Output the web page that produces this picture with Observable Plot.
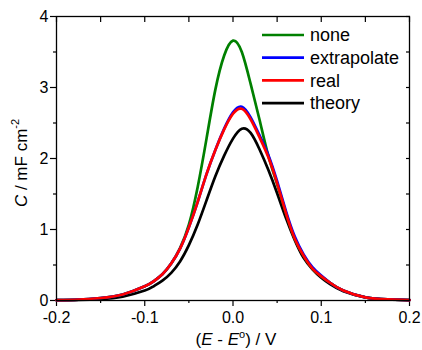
<!DOCTYPE html>
<html>
<head>
<meta charset="utf-8">
<script src="https://cdn.jsdelivr.net/npm/d3@7"></script>
<script src="https://cdn.jsdelivr.net/npm/@observablehq/plot@0.6"></script>
<style>
  html, body { margin: 0; padding: 0; background: #fff; }
  svg { display: block; }
</style>
</head>
<body>
<div id="chart"></div>
<script>
// ---- data ----
const seriesNames = ["none", "extrapolate", "real", "theory"];
const seriesColors = ["#008000", "#0000ff", "#ff0000", "#000000"];

const E = [-0.2, -0.175, -0.15, -0.125, -0.1, -0.09, -0.08, -0.07, -0.06, -0.05, -0.04, -0.03, -0.02, -0.01, 0, 0.01, 0.02, 0.03, 0.04, 0.05, 0.06, 0.07, 0.08, 0.09, 0.1, 0.11, 0.125, 0.15, 0.175, 0.2];

const none        = [0.006, 0.013, 0.035, 0.085, 0.20, 0.27, 0.37, 0.52, 0.74, 1.07, 1.60, 2.28, 2.97, 3.45, 3.66, 3.50, 3.05, 2.55, 2.04, 1.64, 1.23, 0.87, 0.63, 0.45, 0.34, 0.25, 0.14, 0.045, 0.016, 0.006];
const extrapolate = [0.006, 0.013, 0.035, 0.085, 0.20, 0.27, 0.37, 0.52, 0.73, 1.03, 1.39, 1.78, 2.12, 2.42, 2.65, 2.73, 2.58, 2.33, 2.05, 1.68, 1.26, 0.90, 0.65, 0.47, 0.35, 0.25, 0.14, 0.045, 0.016, 0.006];
const real        = [0.006, 0.013, 0.035, 0.085, 0.20, 0.27, 0.37, 0.52, 0.73, 1.03, 1.39, 1.78, 2.12, 2.41, 2.63, 2.70, 2.55, 2.30, 2.02, 1.65, 1.23, 0.87, 0.63, 0.45, 0.34, 0.25, 0.14, 0.045, 0.016, 0.006];
const theory      = [0.004, 0.008, 0.020, 0.055, 0.14, 0.20, 0.28, 0.39, 0.55, 0.78, 1.07, 1.41, 1.75, 2.04, 2.28, 2.42, 2.36, 2.13, 1.84, 1.51, 1.16, 0.85, 0.60, 0.44, 0.32, 0.23, 0.13, 0.045, 0.015, 0.006];

const xMajorTicks = [-0.2, -0.1, 0, 0.1, 0.2];
const xMinorTicks = [-0.15, -0.05, 0.05, 0.15];
const xTopTicks   = [-0.2, -0.15, -0.1, -0.05, 0, 0.05, 0.1, 0.15, 0.2];
const yMajorTicks = [0, 1, 2, 3, 4];
const yMinorTicks = [0.5, 1.5, 2.5, 3.5];
const yRightTicks = [0, 0.5, 1, 1.5, 2, 2.5, 3, 3.5, 4];

const xLabel = ["(", "E", " - ", "E", "o", ") / V"];
const yLabel = ["C", " / mF cm", "-2"];

// ---- build table ----
const valuesBySeries = {none, extrapolate, real, theory};
const rows = seriesNames.flatMap(name => E.map((e, i) => ({E: e, C: valuesBySeries[name][i], series: name})));
const colorOf = Object.fromEntries(seriesNames.map((n, i) => [n, seriesColors[i]]));
const drawOrder = ["theory", "none", "extrapolate", "real"];

const W = 422, H = 350;
const mL = 56, mR = 13, mT = 16, mB = 50;

const svg = Plot.plot({
  width: W, height: H,
  marginLeft: mL, marginRight: mR, marginTop: mT, marginBottom: mB,
  style: {fontFamily: "'Liberation Sans', Arial, sans-serif", fontSize: "16px", color: "#000", background: "#fff", overflow: "visible"},
  x: {domain: [-0.2, 0.2]},
  y: {domain: [0, 4]},
  marks: [
    Plot.axisX(xMajorTicks, {anchor: "bottom", tickSize: 6, tickPadding: 5, tickFormat: d => d.toFixed(1), label: null, fontSize: 16, strokeWidth: 1.2}),
    Plot.axisX(xMinorTicks, {anchor: "bottom", tickSize: 3, fill: "none", label: null, strokeWidth: 1.2}),
    Plot.axisX(xTopTicks, {anchor: "top", tickSize: 5, dy: 5, fill: "none", label: null, strokeWidth: 1.2}),
    Plot.axisY(yMajorTicks, {anchor: "left", tickSize: 6, tickPadding: 2, tickFormat: d => String(d), label: null, fontSize: 16, strokeWidth: 1.2}),
    Plot.axisY(yMinorTicks, {anchor: "left", tickSize: 3, fill: "none", label: null, strokeWidth: 1.2}),
    Plot.axisY(yRightTicks, {anchor: "right", tickSize: 4, dx: -4, fill: "none", label: null, strokeWidth: 1.2}),
    ...drawOrder.map(name => Plot.line(rows.filter(r => r.series === name), {
      x: "E", y: "C", stroke: colorOf[name], strokeWidth: 2.7, curve: "natural"
    })),
    Plot.frame({stroke: "#000", strokeWidth: 1.3})
  ]
});

document.getElementById("chart").appendChild(svg);

const root = d3.select(svg);
const font = "'Liberation Sans', Arial, sans-serif";

// y axis title
const yt = root.append("text")
  .attr("transform", "translate(27,163) rotate(-90)")
  .attr("text-anchor", "middle")
  .attr("font-family", font).attr("font-size", 17).attr("fill", "#000");
yt.append("tspan").attr("font-style", "italic").text(yLabel[0]);
yt.append("tspan").text(yLabel[1]);
yt.append("tspan").attr("font-size", 11).attr("dy", -8).text(yLabel[2]);

// x axis title
const xt = root.append("text")
  .attr("x", 236).attr("y", 345)
  .attr("text-anchor", "middle")
  .attr("font-family", font).attr("font-size", 17).attr("fill", "#000");
xt.append("tspan").text(xLabel[0]);
xt.append("tspan").attr("font-style", "italic").text(xLabel[1]);
xt.append("tspan").text(xLabel[2]);
xt.append("tspan").attr("font-style", "italic").text(xLabel[3]);
xt.append("tspan").attr("font-size", 11).attr("dy", -7).text(xLabel[4]);
xt.append("tspan").attr("dy", 7).text(xLabel[5]);

// legend
const lg = root.append("g").attr("text-anchor", "start");
seriesNames.forEach((name, i) => {
  const y = 35 + i * 22.7;
  lg.append("line").attr("x1", 262).attr("x2", 304).attr("y1", y).attr("y2", y)
    .attr("stroke", seriesColors[i]).attr("stroke-width", 2.7);
  lg.append("text").attr("x", 310).attr("y", y).attr("dy", "0.35em")
    .attr("text-anchor", "start")
    .attr("font-family", font).attr("font-size", 18).attr("fill", "#000").text(name);
});
</script>
</body>
</html>
